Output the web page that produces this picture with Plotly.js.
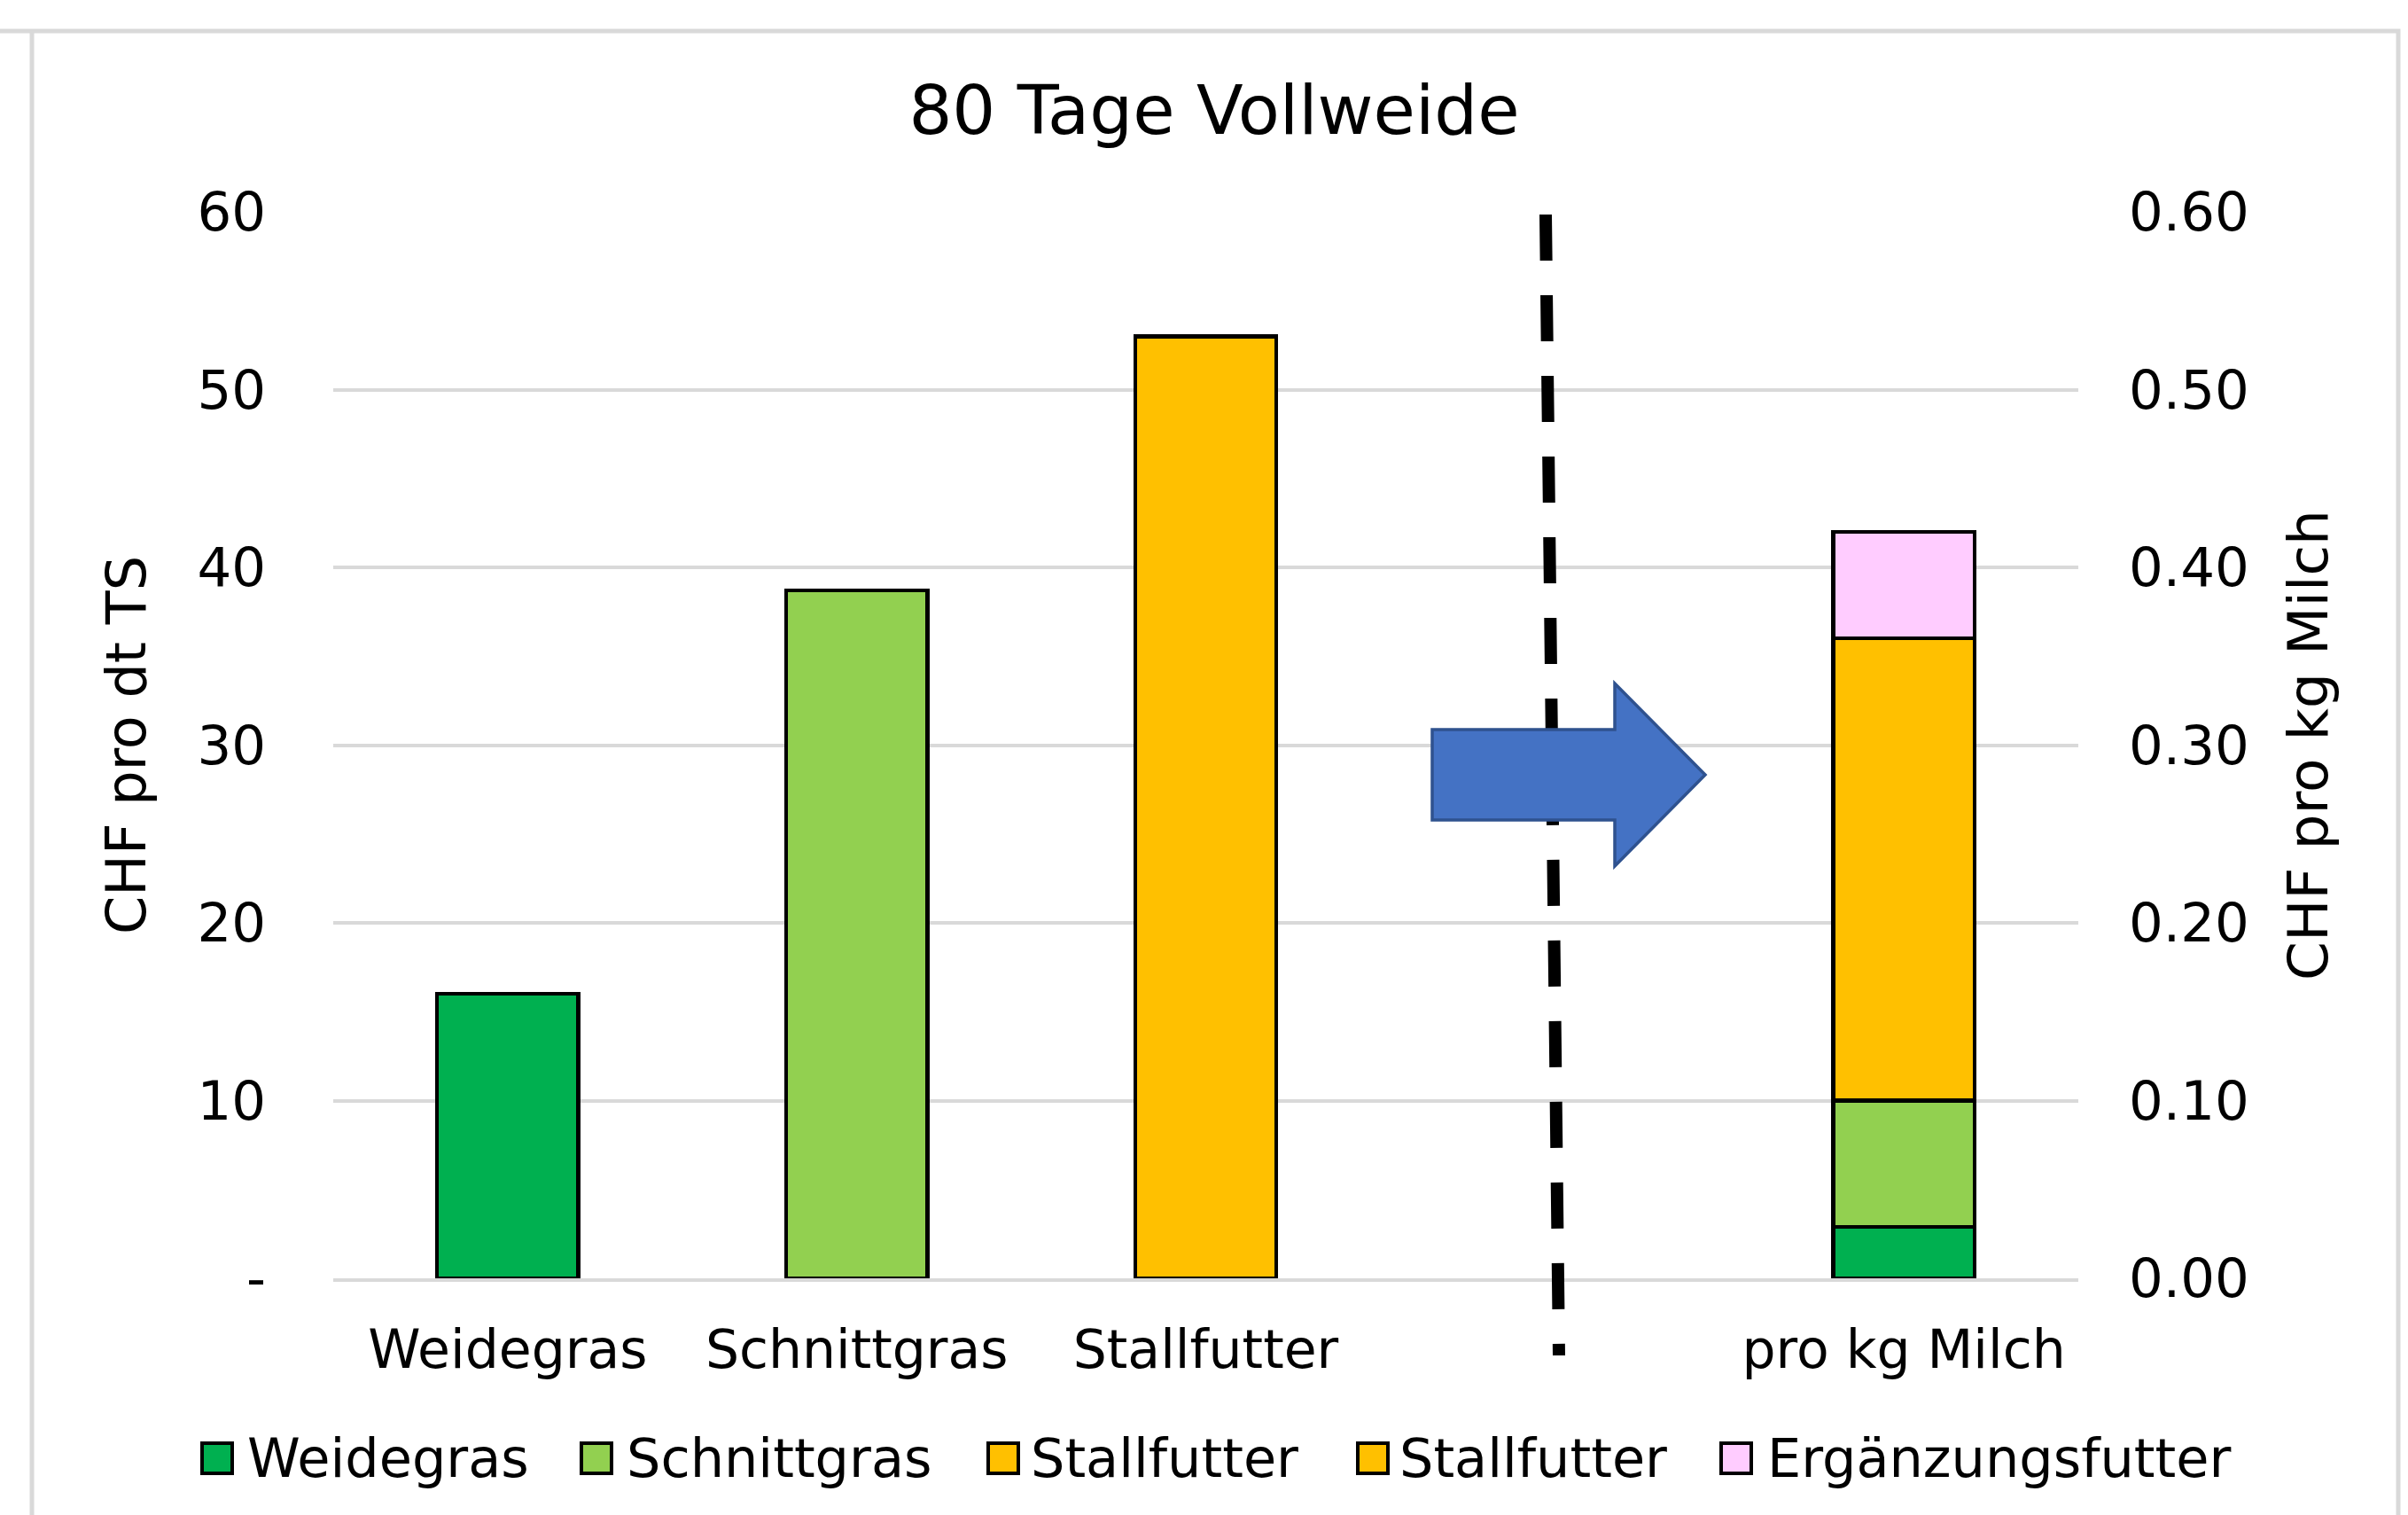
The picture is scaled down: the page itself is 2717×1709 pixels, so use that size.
<!DOCTYPE html>
<html>
<head>
<meta charset="utf-8">
<script src="https://cdn.plot.ly/plotly-3.0.1.min.js"></script>
<style>
html,body{margin:0;padding:0;background:#ffffff;}
#chart{width:2717px;height:1709px;}
</style>
</head>
<body>
<div id="chart"></div>
<script>
// ---------- data ----------
const categories = ['Weidegras', 'Schnittgras', 'Stallfutter', ' ', 'pro kg Milch'];
const feedNames = ['Weidegras', 'Schnittgras', 'Stallfutter'];
const feedCostPerDtTS = [16.0, 38.7, 53.0];            // CHF pro dt TS (left axis)
const milkCategory = 'pro kg Milch';
const milkComponents = ['Weidegras', 'Schnittgras', 'Stallfutter', 'Ergänzungsfutter'];
const milkCostPerKg = [0.029, 0.071, 0.26, 0.06];      // CHF pro kg Milch (right axis)
const leftTickVals = [0, 10, 20, 30, 40, 50, 60];
const leftTickText = ['-', '10', '20', '30', '40', '50', '60'];
const rightTickVals = [0, 0.1, 0.2, 0.3, 0.4, 0.5, 0.6];
const rightTickText = ['0.00', '0.10', '0.20', '0.30', '0.40', '0.50', '0.60'];
const legendLabels = ['Weidegras', 'Schnittgras', 'Stallfutter', 'Stallfutter', 'Ergänzungsfutter'];
const titleText = '80 Tage Vollweide';
const leftAxisTitle = 'CHF pro dt TS';
const rightAxisTitle = 'CHF pro kg Milch';

// ---------- styles ----------
const colorOf = {
  'Weidegras': '#00B050',
  'Schnittgras': '#92D050',
  'Stallfutter': '#FFC000',
  'Ergänzungsfutter': '#FFCCFF'
};
const FONT = 'DejaVu Sans';
const W = 2717, H = 1709;
const PL = 376, PR = 2345, PT = 239, PB = 1442;   // plot area in pixels
const fx = px => (px - PL) / (PR - PL);
const fy = py => (PB - py) / (PB - PT);
const barLine = {color: '#000000', width: 4.5};

// ---------- traces ----------
const traces = [];
feedNames.forEach((n, i) => {
  traces.push({
    type: 'bar', name: n, x: [n], y: [feedCostPerDtTS[i]],
    xaxis: 'x', yaxis: 'y', width: 0.405,
    marker: {color: colorOf[n], line: barLine},
    showlegend: false, hoverinfo: 'skip'
  });
});
milkComponents.forEach((n, i) => {
  traces.push({
    type: 'bar', name: n, x: [milkCategory], y: [milkCostPerKg[i]],
    xaxis: 'x', yaxis: 'y2', width: 0.405,
    marker: {color: colorOf[n], line: barLine},
    showlegend: false, hoverinfo: 'skip'
  });
});

// ---------- decorations ----------
const shapes = [];
const grey = '#D9D9D9';
// outer frame
shapes.push({type: 'path', xref: 'paper', yref: 'paper', layer: 'above',
  path: `M${fx(0)},${fy(35)} L${fx(2706)},${fy(35)} L${fx(2706)},${fy(1720)} M${fx(36)},${fy(35)} L${fx(36)},${fy(1720)}`,
  line: {color: grey, width: 5}});
// dashed separator
shapes.push({type: 'line', xref: 'paper', yref: 'paper', layer: 'above',
  x0: fx(1744), y0: fy(242), x1: fx(1759), y1: fy(1529),
  line: {color: '#000000', width: 14, dash: '52px,39px'}});
// block arrow
shapes.push({type: 'path', xref: 'paper', yref: 'paper', layer: 'above',
  path: `M${fx(1616)},${fy(823)} L${fx(1822)},${fy(823)} L${fx(1822)},${fy(771)} L${fx(1924)},${fy(874)} L${fx(1822)},${fy(977)} L${fx(1822)},${fy(925)} L${fx(1616)},${fy(925)} Z`,
  fillcolor: '#4472C4', line: {color: '#2F528F', width: 3.5}});

// custom legend (squares + text)
const legendSquareX = [228, 656, 1115, 1532, 1942];
const legendTextX = [278, 706, 1162, 1578, 1993];
const legendY = 1645, sq = 34;
const annotations = [];
legendLabels.forEach((lab, i) => {
  shapes.push({type: 'rect', xref: 'paper', yref: 'paper', layer: 'above',
    x0: fx(legendSquareX[i]), x1: fx(legendSquareX[i] + sq),
    y0: fy(legendY + 17 - sq), y1: fy(legendY + 17),
    fillcolor: colorOf[lab], line: {color: '#000000', width: 4}});
  annotations.push({xref: 'paper', yref: 'paper', x: fx(legendTextX[i]), y: fy(legendY),
    xanchor: 'left', yanchor: 'middle', text: lab, showarrow: false,
    borderpad: 0, font: {family: FONT, size: 60.5, color: '#000000'}});
});

const layout = {
  width: W, height: H,
  margin: {l: PL, r: W - PR, t: PT, b: H - PB, pad: 0},
  paper_bgcolor: '#ffffff', plot_bgcolor: '#ffffff',
  barmode: 'stack', showlegend: false,
  font: {family: FONT, color: '#000000'},
  title: {text: titleText, font: {family: FONT, size: 77, color: '#000000'},
          xref: 'paper', x: fx(1370), xanchor: 'center',
          yref: 'container', y: 1 - 124 / H, yanchor: 'middle'},
  xaxis: {type: 'category', categoryorder: 'array', categoryarray: categories,
          range: [-0.5, categories.length - 0.5], showgrid: false,
          showline: true, linecolor: grey, linewidth: 4, zeroline: false,
          ticks: '', ticklabelstandoff: 25,
          tickfont: {family: FONT, size: 60, color: '#000000'}, fixedrange: true},
  yaxis: {range: [0, 60], tickvals: leftTickVals, ticktext: leftTickText,
          showgrid: true, gridcolor: grey, gridwidth: 4, zeroline: false, showline: false,
          ticks: '', ticklabelstandoff: 75,
          tickfont: {family: FONT, size: 61, color: '#000000'},
          title: {text: leftAxisTitle, font: {family: FONT, size: 62, color: '#000000'}, standoff: 37},
          fixedrange: true},
  yaxis2: {overlaying: 'y', side: 'right', range: [0, 0.6],
           tickvals: rightTickVals, ticktext: rightTickText,
           showgrid: false, zeroline: false, showline: false,
           ticks: '', ticklabelstandoff: 56,
           tickfont: {family: FONT, size: 61, color: '#000000'},
           title: {text: rightAxisTitle, font: {family: FONT, size: 63, color: '#000000'}, standoff: 45},
           fixedrange: true},
  shapes: shapes,
  annotations: annotations
};

Plotly.newPlot('chart', traces, layout, {displayModeBar: false, staticPlot: true});
</script>
</body>
</html>
